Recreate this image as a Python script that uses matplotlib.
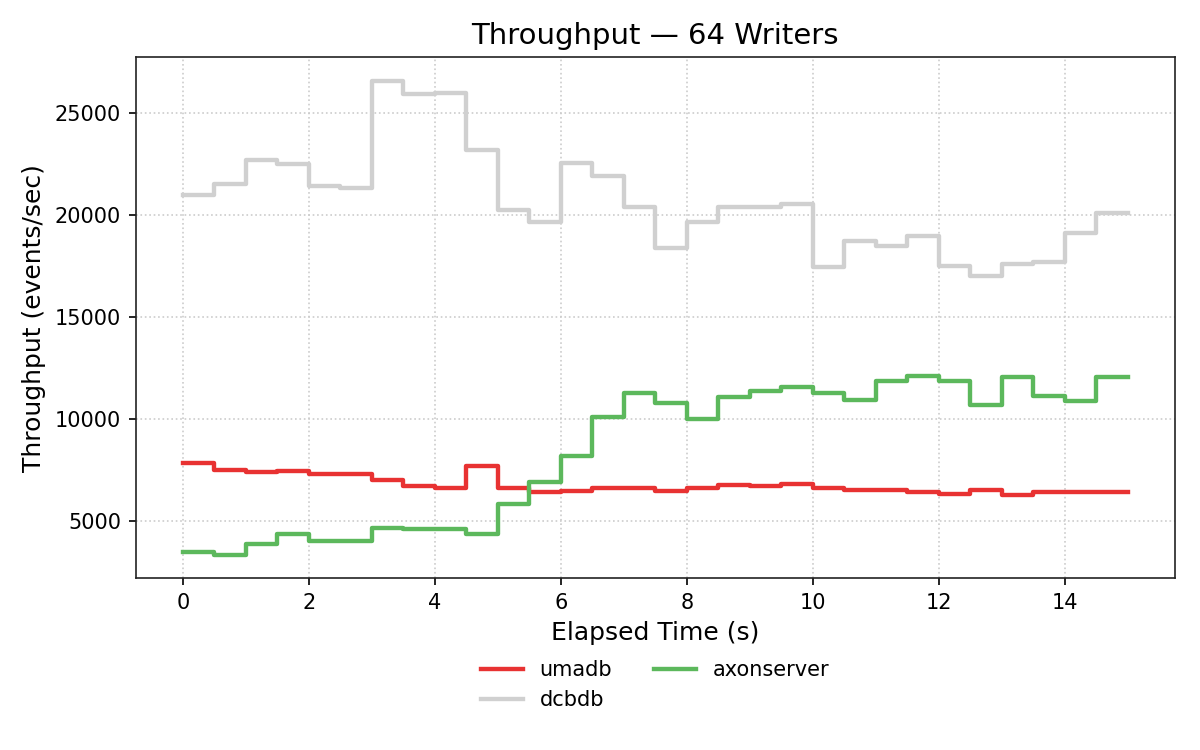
#!/usr/bin/env python
# coding: utf-8

# step plot of throughput per store, 64 writers

import numpy as np
import matplotlib
matplotlib.use("Agg")
import matplotlib.pyplot as plt

# elapsed time in seconds, sampled every 0.5 s
t = np.arange(0, 15.5, 0.5)

umadb = [7890, 7515, 7420, 7465, 7320, 7320, 7025, 6750, 6635, 7710,
         6635, 6440, 6490, 6635, 6635, 6490, 6635, 6780, 6730, 6830,
         6635, 6535, 6535, 6440, 6340, 6535, 6290, 6440, 6440, 6440, 6440]

dcbdb = [20980, 21550, 22730, 22500, 21420, 21340, 26600, 25965, 26000, 23200,
         20245, 19660, 22580, 21910, 20410, 18400, 19660, 20390, 20390, 20575,
         17450, 18725, 18480, 18970, 17500, 17010, 17600, 17700, 19120, 20130, 20130]

axonserver = [3500, 3380, 3890, 4395, 4035, 4035, 4675, 4625, 4625, 4380,
              5835, 6930, 8205, 10115, 11305, 10815, 10015, 11095, 11390, 11585,
              11305, 10950, 11880, 12125, 11880, 10705, 12075, 11145, 10900, 12075, 12075]

fig, ax = plt.subplots(figsize=(8, 5), dpi=150)

ax.step(t, umadb, where="post", color="#e83232", lw=2.1, label="umadb")
ax.step(t, dcbdb, where="post", color="#d0d0d0", lw=2.1, label="dcbdb")
ax.step(t, axonserver, where="post", color="#5cb85c", lw=2.1, label="axonserver")

ax.set_title("Throughput — 64 Writers", fontsize=14)
ax.set_xlabel("Elapsed Time (s)", fontsize=12)
ax.set_ylabel("Throughput (events/sec)", fontsize=12)
ax.grid(True, linestyle=":", color="#cccccc", linewidth=0.8)

for s in ax.spines.values():
    s.set_color("#222222")

ax.legend(loc="upper center", bbox_to_anchor=(0.5, -0.121), ncol=2,
          frameon=False, fontsize=10)

fig.subplots_adjust(left=0.113, right=0.979, top=0.924, bottom=0.229)
plt.savefig("out.png")
